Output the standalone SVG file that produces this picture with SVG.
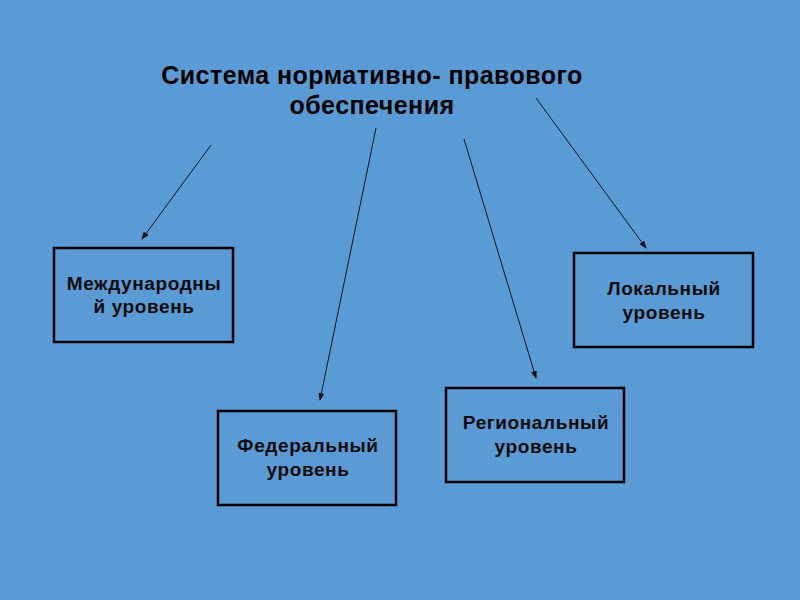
<svg xmlns="http://www.w3.org/2000/svg" width="800" height="600" viewBox="0 0 800 600">
<style>
.box{fill:none;stroke:#000;stroke-width:2.5}
.t{font-family:"Liberation Sans",Arial,sans-serif;font-weight:bold;font-size:19px;letter-spacing:0.6px;fill:#0a0a0a;text-anchor:middle}
.title{font-family:"Liberation Sans",Arial,sans-serif;font-weight:bold;font-size:25px;letter-spacing:0.45px;fill:#000;text-anchor:middle}
.c{stroke:#111;stroke-width:1;fill:none;marker-end:url(#ah)}
</style>
<defs>
<marker id="ah" markerWidth="8" markerHeight="6" refX="7" refY="3" orient="auto" markerUnits="userSpaceOnUse">
<path d="M0,0 L8,3 L0,6 z" fill="#111"/>
</marker>
</defs>
<rect width="800" height="600" fill="#5B9BD5"/>
<g id="title">
<text class="title" x="372" y="84">Система нормативно- правового</text>
<text class="title" x="372" y="114">обеспечения</text>
</g>
<g id="connectors">
<line class="c" x1="211" y1="145" x2="142" y2="239"/>
<line class="c" x1="376" y1="128" x2="320" y2="400"/>
<line class="c" x1="464" y1="139" x2="536" y2="378"/>
<line class="c" x1="536" y1="98" x2="646" y2="248"/>
</g>
<g id="international">
<rect class="box" x="54" y="248" width="179" height="94"/>
<text class="t" x="144" y="290">Международны</text>
<text class="t" x="144" y="313">й уровень</text>
</g>
<g id="federal">
<rect class="box" x="218" y="411" width="178" height="94"/>
<text class="t" x="308" y="452">Федеральный</text>
<text class="t" x="308" y="476">уровень</text>
</g>
<g id="regional">
<rect class="box" x="446" y="388" width="178" height="94"/>
<text class="t" x="536" y="429">Региональный</text>
<text class="t" x="536" y="453">уровень</text>
</g>
<g id="local">
<rect class="box" x="574" y="253" width="179" height="94"/>
<text class="t" x="664" y="295">Локальный</text>
<text class="t" x="664" y="319">уровень</text>
</g>
</svg>
